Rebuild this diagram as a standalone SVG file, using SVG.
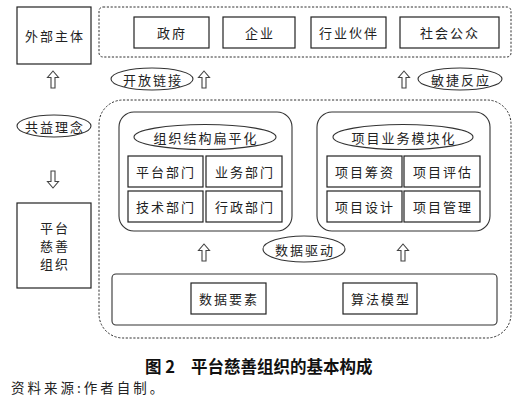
<svg xmlns="http://www.w3.org/2000/svg" width="521" height="402" viewBox="0 0 521 402">
<style>
.box{fill:#fff;stroke:#222;stroke-width:1.2}
.dash{fill:none;stroke:#333;stroke-width:1;stroke-dasharray:2.2 1.6}
.panel{fill:#fff;stroke:#333;stroke-width:1.1}
.ell{fill:#fff;stroke:#333;stroke-width:1.1}
.t{font-family:"Noto Sans CJK SC","Liberation Serif",serif;font-size:13px;fill:#222;text-anchor:middle;dominant-baseline:central;letter-spacing:2px}
.arr{fill:#fff;stroke:#444;stroke-width:1.1}
.cap{font-family:"Noto Sans CJK SC",sans-serif;font-weight:bold;font-size:16.5px;fill:#111}
.src{font-family:"Noto Sans CJK SC",serif;font-size:13.5px;fill:#222;letter-spacing:3px}
</style>
<defs>
<path id="up" d="M0,0 L5.5,6.5 L2,6.5 L2,17 L-2,17 L-2,6.5 L-5.5,6.5 Z"/>
</defs>
<rect width="521" height="402" fill="#fff"/>

<g id="outer-dashed">
<rect class="dash" x="99" y="7" width="412" height="50" rx="4"/>
<rect class="dash" x="99" y="100" width="412" height="238" rx="24"/>
</g>

<g id="waibu"><rect class="box" x="17" y="7" width="74" height="57"/><text class="t" x="55" y="35">外部主体</text></g>
<g id="zhengfu"><rect class="box" x="134" y="17" width="75" height="31"/><text class="t" x="172" y="32.5">政府</text></g>
<g id="qiye"><rect class="box" x="223" y="17" width="72" height="31"/><text class="t" x="260" y="32.5">企业</text></g>
<g id="hangye"><rect class="box" x="311" y="17" width="75" height="31"/><text class="t" x="349" y="32.5">行业伙伴</text></g>
<g id="shehui"><rect class="box" x="400" y="17" width="99" height="31"/><text class="t" x="450" y="32.5">社会公众</text></g>

<g id="kaifang"><ellipse class="ell" cx="152" cy="79" rx="41" ry="11"/><text class="t" x="153" y="79">开放链接</text></g>
<g id="minjie"><ellipse class="ell" cx="460" cy="79" rx="42" ry="11"/><text class="t" x="461" y="79">敏捷反应</text></g>
<g id="gongyi"><ellipse class="ell" cx="54" cy="126" rx="37" ry="11"/><text class="t" x="55" y="126">共益理念</text></g>

<g id="pingtai"><rect class="box" x="17" y="203" width="74" height="85"/>
<text class="t" x="55" y="227">平台</text><text class="t" x="55" y="245">慈善</text><text class="t" x="55" y="263">组织</text></g>

<g id="zuzhi">
<rect class="panel" x="119" y="112" width="173" height="119" rx="15"/>
<ellipse class="ell" cx="205" cy="137" rx="71" ry="12.5"/><text class="t" x="206" y="137">组织结构扁平化</text>
<rect class="box" x="128" y="156" width="75" height="31"/><text class="t" x="166" y="171.5">平台部门</text>
<rect class="box" x="206" y="156" width="76" height="31"/><text class="t" x="245" y="171.5">业务部门</text>
<rect class="box" x="128" y="191" width="75" height="31"/><text class="t" x="166" y="206.5">技术部门</text>
<rect class="box" x="206" y="191" width="76" height="31"/><text class="t" x="245" y="206.5">行政部门</text>
</g>

<g id="xiangmu">
<rect class="panel" x="317" y="112" width="173" height="119" rx="15"/>
<ellipse class="ell" cx="403" cy="137" rx="70" ry="12.5"/><text class="t" x="404" y="137">项目业务模块化</text>
<rect class="box" x="327" y="156" width="75" height="31"/><text class="t" x="365" y="171.5">项目筹资</text>
<rect class="box" x="404" y="156" width="76" height="31"/><text class="t" x="443" y="171.5">项目评估</text>
<rect class="box" x="327" y="191" width="75" height="31"/><text class="t" x="365" y="206.5">项目设计</text>
<rect class="box" x="404" y="191" width="76" height="31"/><text class="t" x="443" y="206.5">项目管理</text>
</g>

<g id="shuju-qudong"><ellipse class="ell" cx="304" cy="249" rx="41" ry="13"/><text class="t" x="305" y="249">数据驱动</text></g>

<g id="base">
<rect class="panel" x="112" y="274" width="385" height="51" rx="4"/>
<rect class="box" x="191" y="283" width="75" height="31"/><text class="t" x="229" y="298.5">数据要素</text>
<rect class="box" x="343" y="283" width="74" height="31"/><text class="t" x="381" y="298.5">算法模型</text>
</g>

<g id="connectors" class="arr">
<use href="#up" x="53" y="71"/>
<use href="#up" x="204" y="71"/>
<use href="#up" x="404" y="71"/>
<use href="#up" transform="translate(53,188) scale(1,-1)"/>
<use href="#up" x="204" y="244"/>
<use href="#up" x="403" y="244"/>
</g>

<text class="cap" x="145" y="373">图 2<tspan dx="16">平台慈善组织的基本构成</tspan></text>
<text class="src" x="11" y="393">资料来源:作者自制。</text>
</svg>
